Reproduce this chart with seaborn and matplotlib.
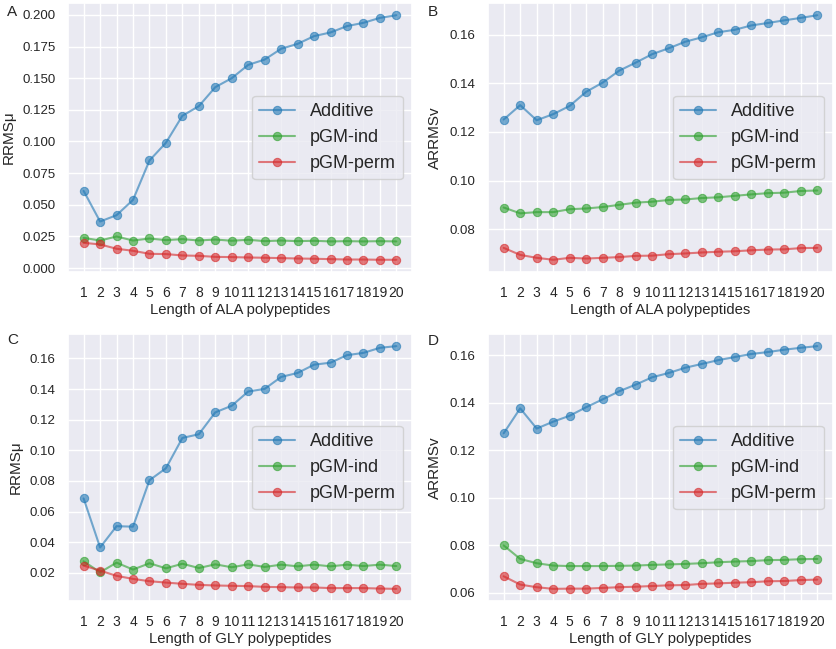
import matplotlib
matplotlib.use("Agg")
import matplotlib.pyplot as plt
from matplotlib.ticker import MultipleLocator
import numpy as np
import pandas as pd
import seaborn as sns

lengths = list(range(1, 21))
methods = ["Additive", "pGM-ind", "pGM-perm"]
colors = ["#1f77b4", "#2ca02c", "#d62728"]

# panel A: ALA, RRMSmu
ala_mu_add = [0.061, 0.0368, 0.0418, 0.0539, 0.085, 0.099, 0.1203, 0.1279, 0.1429, 0.150,
              0.1605, 0.1647, 0.1732, 0.1771, 0.1832, 0.1861, 0.1911, 0.1937, 0.1976, 0.1997]
ala_mu_ind = [0.0239, 0.0218, 0.025, 0.0218, 0.0234, 0.0221, 0.0229, 0.0218, 0.0226, 0.0216,
              0.0224, 0.0213, 0.0218, 0.0213, 0.0216, 0.0211, 0.0213, 0.0211, 0.0213, 0.0211]
ala_mu_perm = [0.020, 0.0187, 0.0153, 0.0137, 0.0113, 0.0111, 0.0100, 0.0097, 0.0089, 0.0087,
               0.0084, 0.0082, 0.0079, 0.0076, 0.0074, 0.0071, 0.0068, 0.0068, 0.0066, 0.0066]

# panel B: ALA, ARRMSv
ala_v_add = [0.1251, 0.131, 0.1248, 0.1273, 0.1307, 0.1365, 0.1403, 0.1452, 0.1485, 0.152,
             0.1544, 0.1571, 0.1589, 0.161, 0.162, 0.1638, 0.1648, 0.1659, 0.1669, 0.168]
ala_v_ind = [0.0889, 0.0865, 0.0870, 0.0870, 0.0882, 0.0885, 0.0891, 0.0900, 0.0909, 0.0913,
             0.0920, 0.0922, 0.0928, 0.0931, 0.0937, 0.0943, 0.0948, 0.0950, 0.0957, 0.0959]
ala_v_perm = [0.0723, 0.0694, 0.0682, 0.0674, 0.0682, 0.0679, 0.0682, 0.0685, 0.0690, 0.0691,
              0.0697, 0.0700, 0.0704, 0.0707, 0.0709, 0.0713, 0.0716, 0.0717, 0.0722, 0.0723]

# panel C: GLY, RRMSmu
gly_mu_add = [0.0686, 0.0366, 0.0505, 0.0502, 0.0805, 0.0883, 0.1081, 0.1105, 0.1248, 0.1291,
              0.1384, 0.1401, 0.1479, 0.1505, 0.1559, 0.1572, 0.1621, 0.1636, 0.1669, 0.1680]
gly_mu_ind = [0.0276, 0.0204, 0.0267, 0.0222, 0.0263, 0.0230, 0.0260, 0.0232, 0.0256, 0.0237,
              0.0256, 0.0239, 0.0254, 0.0243, 0.0254, 0.0243, 0.0254, 0.0245, 0.0254, 0.0245]
gly_mu_perm = [0.0248, 0.0215, 0.0181, 0.0161, 0.0146, 0.0137, 0.0129, 0.0122, 0.0118, 0.0116,
               0.0114, 0.0109, 0.0107, 0.0105, 0.0105, 0.0101, 0.0101, 0.0101, 0.0098, 0.0096]

# panel D: GLY, ARRMSv
gly_v_add = [0.1272, 0.1377, 0.1292, 0.1321, 0.1346, 0.1382, 0.1415, 0.1449, 0.1477, 0.1508,
             0.1526, 0.1548, 0.1564, 0.1580, 0.1593, 0.1606, 0.1614, 0.1624, 0.1632, 0.1639]
gly_v_ind = [0.080, 0.0743, 0.0725, 0.0715, 0.0713, 0.0713, 0.0713, 0.0714, 0.0715, 0.0718,
             0.0720, 0.0722, 0.0725, 0.0729, 0.0732, 0.0734, 0.0738, 0.0739, 0.0742, 0.0743]
gly_v_perm = [0.0670, 0.0635, 0.0624, 0.0617, 0.0618, 0.0618, 0.0621, 0.0624, 0.0626, 0.0629,
              0.0632, 0.0633, 0.0638, 0.0640, 0.0643, 0.0645, 0.0649, 0.0650, 0.0654, 0.0656]

panels = [
    ("A", "RRMSμ", "Length of ALA polypeptides", [ala_mu_add, ala_mu_ind, ala_mu_perm], 0.025),
    ("B", "ARRMSv", "Length of ALA polypeptides", [ala_v_add, ala_v_ind, ala_v_perm], 0.02),
    ("C", "RRMSμ", "Length of GLY polypeptides", [gly_mu_add, gly_mu_ind, gly_mu_perm], 0.02),
    ("D", "ARRMSv", "Length of GLY polypeptides", [gly_v_add, gly_v_ind, gly_v_perm], 0.02),
]

sns.set_theme(style="darkgrid")
plt.rcParams["font.family"] = ["Liberation Sans", "DejaVu Sans"]

fig = plt.figure(figsize=(8.36, 6.49), dpi=100)
W, H = 836, 649
# axes boxes in pixels: left, top, right, bottom
boxes = [(68, 3, 412, 272), (488, 3, 833, 272), (68, 334, 412, 601), (488, 334, 833, 601)]
label_pos = [(7, 11.5), (428, 12), (7, 340), (428, 341)]
ylab_x = [16, 442, 23, 442]

for (letter, ylab, xlab, series, step), box, lp, yx in zip(panels, boxes, label_pos, ylab_x):
    l, t, r, b = box
    ax = fig.add_axes([l / W, 1 - b / H, (r - l) / W, (b - t) / H])
    for name, vals, c in zip(methods, series, colors):
        sns.lineplot(x=lengths, y=vals, marker="o", markersize=6, color=c, alpha=0.6,
                     linewidth=1.5, markeredgecolor=c, label=name, ax=ax)
    ax.set_xticks(lengths)
    ax.yaxis.set_major_locator(MultipleLocator(step))
    ax.tick_params(axis="x", labelsize=10, pad=4, colors="#262626")
    ax.tick_params(axis="y", labelsize=9.5, pad=3, colors="#262626")
    ax.set_ylabel(ylab, fontsize=11)
    ax.set_xlabel(xlab, fontsize=10.7, labelpad=2)
    ax.yaxis.set_label_coords((yx - l) / (r - l), 0.5)
    ax.legend(loc="center right", fontsize=13)
    fig.text(lp[0] / W, 1 - lp[1] / H, letter, fontsize=11, va="center", ha="left")

fig.savefig("out.png", dpi=100)
